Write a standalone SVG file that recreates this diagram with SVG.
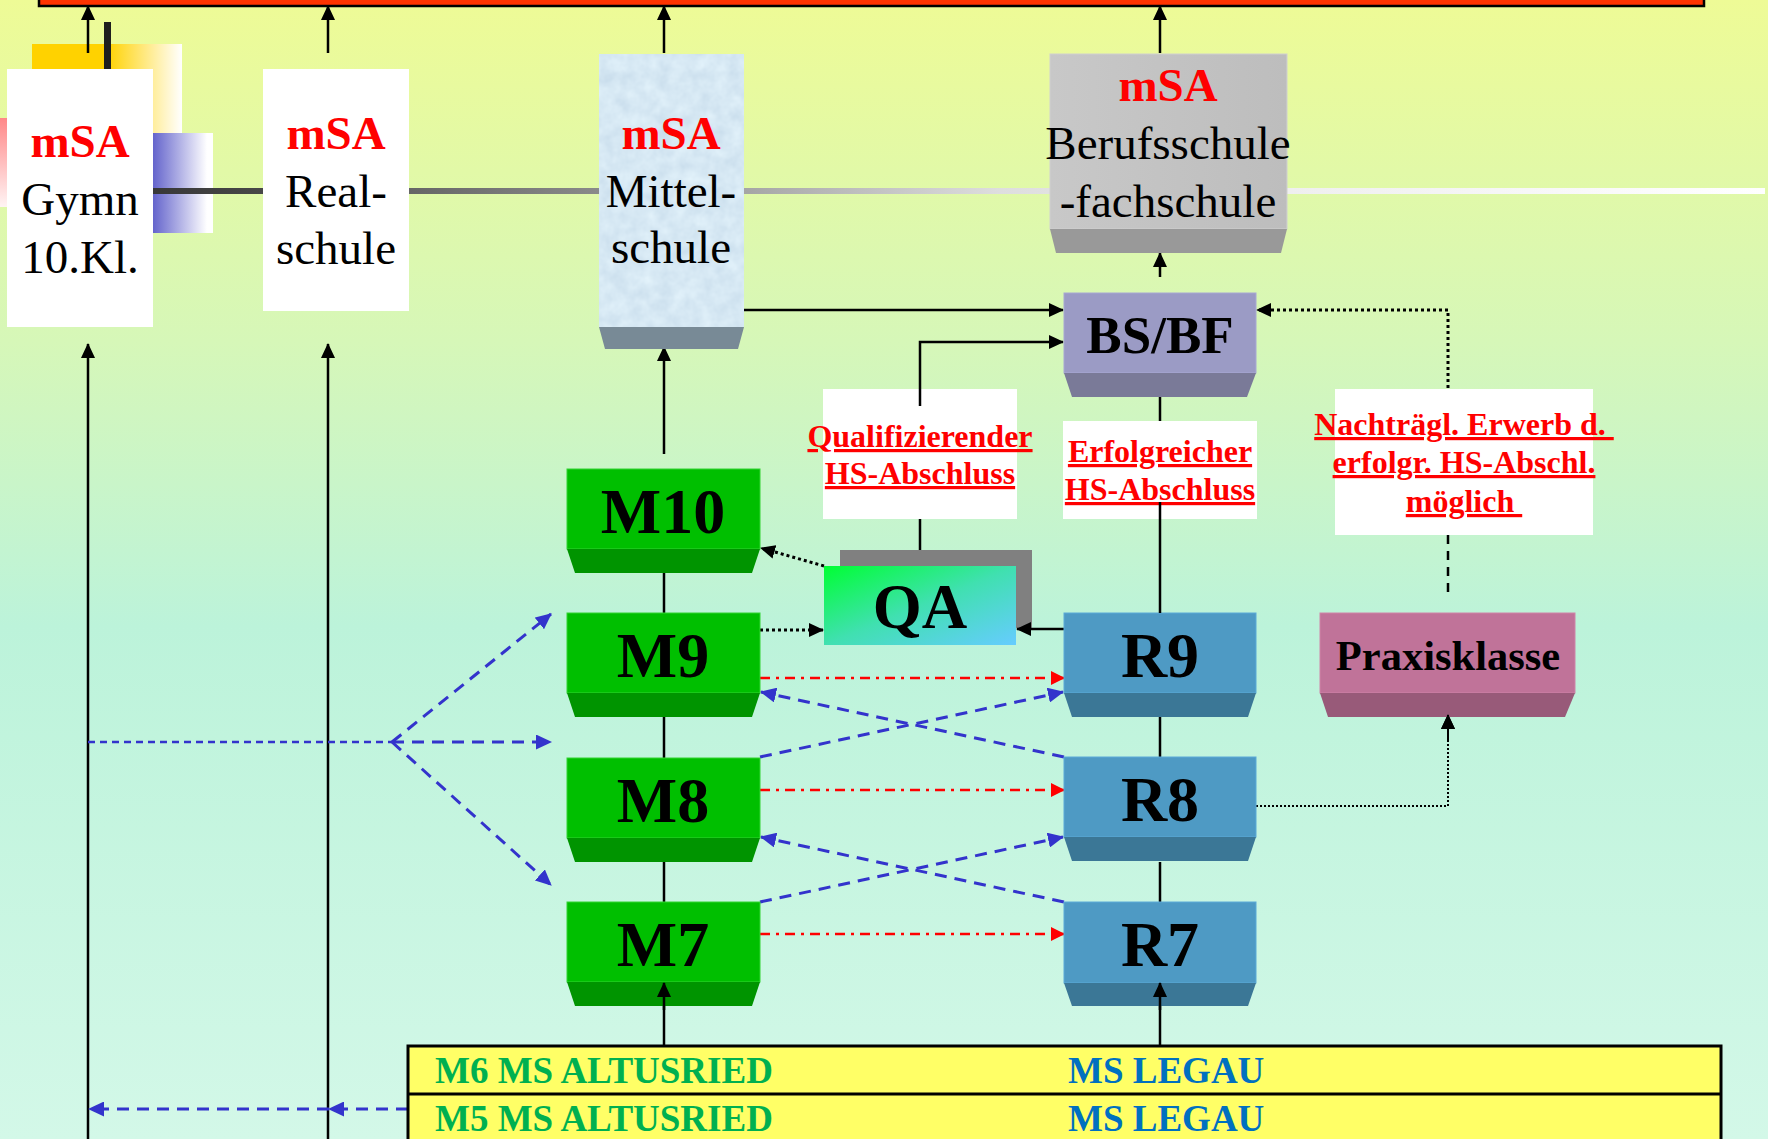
<svg xmlns="http://www.w3.org/2000/svg" width="1768" height="1139" viewBox="0 0 1768 1139">
<defs>
<linearGradient id="bg" x1="0" y1="0" x2="0" y2="1">
<stop offset="0" stop-color="#eefb96"/>
<stop offset="0.3" stop-color="#d6f7b8"/>
<stop offset="0.55" stop-color="#bcf3da"/>
<stop offset="1" stop-color="#d3f8e8"/>
</linearGradient>
<linearGradient id="hline" gradientUnits="userSpaceOnUse" x1="153" y1="0" x2="1765" y2="0">
<stop offset="0" stop-color="#383838"/>
<stop offset="0.068" stop-color="#484848"/>
<stop offset="0.159" stop-color="#666666"/>
<stop offset="0.277" stop-color="#8a8a8a"/>
<stop offset="0.367" stop-color="#a5a5a5"/>
<stop offset="0.525" stop-color="#dedede"/>
<stop offset="0.705" stop-color="#efefef"/>
<stop offset="1" stop-color="#ffffff"/>
</linearGradient>
<linearGradient id="yel" x1="0" y1="0" x2="1" y2="0">
<stop offset="0" stop-color="#ffd200"/>
<stop offset="0.5" stop-color="#ffd200"/>
<stop offset="1" stop-color="#ffffff"/>
</linearGradient>
<linearGradient id="blu" x1="0" y1="0" x2="1" y2="0">
<stop offset="0" stop-color="#6464cc"/>
<stop offset="0.9" stop-color="#ffffff"/>
<stop offset="1" stop-color="#ffffff"/>
</linearGradient>
<linearGradient id="pnk" x1="0" y1="0" x2="0" y2="1">
<stop offset="0" stop-color="#ff8888"/>
<stop offset="1" stop-color="#fff4f4"/>
</linearGradient>
<linearGradient id="qa" x1="0" y1="0" x2="1" y2="1">
<stop offset="0" stop-color="#00ff33"/>
<stop offset="0.5" stop-color="#40e0b0"/>
<stop offset="1" stop-color="#66ccff"/>
</linearGradient>
<linearGradient id="gray" x1="0" y1="0" x2="1" y2="0">
<stop offset="0" stop-color="#c8c8c8"/>
<stop offset="1" stop-color="#bdbdbd"/>
</linearGradient>
<filter id="tex" x="0" y="0" width="100%" height="100%" color-interpolation-filters="sRGB">
<feTurbulence type="fractalNoise" baseFrequency="0.07" numOctaves="3" seed="4" result="n"/>
<feColorMatrix in="n" type="matrix" values="0.12 0 0 0 0.78  0.10 0 0 0 0.86  0.07 0 0 0 0.92  0 0 0 0 1" result="c"/>
<feComposite in="c" in2="SourceGraphic" operator="in"/>
</filter>
<marker id="ak" markerUnits="userSpaceOnUse" markerWidth="15" markerHeight="14" refX="14" refY="7" orient="auto">
<path d="M0,0 L15,7 L0,14 z" fill="#000"/>
</marker>
<marker id="ab" markerUnits="userSpaceOnUse" markerWidth="16" markerHeight="15" refX="15" refY="7.5" orient="auto">
<path d="M0,0 L16,7.5 L0,15 z" fill="#3333cc"/>
</marker>
<marker id="ar" markerUnits="userSpaceOnUse" markerWidth="14" markerHeight="14" refX="13" refY="7" orient="auto">
<path d="M0,0 L14,7 L0,14 z" fill="#ff0000"/>
</marker>
</defs>
<style>
.s{font-family:"Liberation Serif","Times New Roman",serif}
.red{fill:#ff0000;font-weight:bold;font-size:47px}
.blk{fill:#000;font-size:47px}
.nb{fill:#000;font-weight:bold;font-size:64px}
.lab{fill:#ff0000;font-weight:bold;font-size:32px;text-decoration:underline;white-space:pre}
.tab{font-weight:bold;font-size:37px}
.c{stroke:#000;stroke-width:2.5;fill:none}
.ck{stroke:#000;stroke-width:2.5;fill:none;marker-end:url(#ak)}
.dot{stroke:#000;stroke-width:3;stroke-dasharray:3 3;fill:none;marker-end:url(#ak)}
.dot2{stroke:#000;stroke-width:2;stroke-dasharray:2 2;fill:none;marker-end:url(#ak)}
.rd{stroke:#ff0000;stroke-width:2.5;stroke-dasharray:10 6 3 6;fill:none;marker-end:url(#ar)}
.bd{stroke:#3333cc;stroke-width:3;stroke-dasharray:12 8;fill:none;marker-end:url(#ab)}
.mm{fill:#00bf00;stroke:#33d433;stroke-width:1}
.mb{fill:#009400}
.rm{fill:#4e9ac4;stroke:#5aaad8;stroke-width:1}
.rb{fill:#3b7796}
.wb{fill:#ffffff}
</style>
<rect x="0" y="0" width="1768" height="1139" fill="url(#bg)"/>
<rect x="39" y="-12" width="1665" height="18" fill="#ff3300" stroke="#000" stroke-width="2.5"/>
<g id="decor">
<rect x="32" y="44" width="150" height="89" fill="url(#yel)"/>
<rect x="0" y="118" width="30" height="89" fill="url(#pnk)"/>
<rect x="153" y="133" width="60" height="100" fill="url(#blu)"/>
<rect x="104" y="22" width="7" height="48" fill="#1e1e1e"/>
<rect x="153" y="188" width="1612" height="6" fill="url(#hline)"/>
</g>
<g id="connectors">
<line class="ck" x1="88" y1="53" x2="88" y2="6"/>
<line class="ck" x1="328" y1="53" x2="328" y2="6"/>
<line class="ck" x1="664" y1="53" x2="664" y2="6"/>
<line class="ck" x1="1160" y1="53" x2="1160" y2="6"/>
<line class="ck" x1="88" y1="1139" x2="88" y2="344"/>
<line class="ck" x1="328" y1="1139" x2="328" y2="344"/>
<line class="ck" x1="664" y1="454" x2="664" y2="347"/>
<line class="ck" x1="664" y1="613" x2="664" y2="552"/>
<line class="c" x1="664" y1="717" x2="664" y2="758"/>
<line class="c" x1="664" y1="862" x2="664" y2="902"/>
<line class="ck" x1="664" y1="1046" x2="664" y2="983"/>
<line class="ck" x1="1160" y1="1046" x2="1160" y2="983"/>
<line class="c" x1="1160" y1="717" x2="1160" y2="757"/>
<line class="c" x1="1160" y1="862" x2="1160" y2="902"/>
<line class="c" x1="1160" y1="397" x2="1160" y2="421"/>
<line class="ck" x1="1160" y1="277" x2="1160" y2="253"/>
<line class="ck" x1="744" y1="310" x2="1063" y2="310"/>
<polyline class="ck" points="920,406 920,342 1063,342"/>
<line class="c" x1="920" y1="502" x2="920" y2="550"/>
<polyline class="dot" points="1448,388 1448,310 1257,310"/>
<line x1="1448" y1="535" x2="1448" y2="598" stroke="#000" stroke-width="2.5" stroke-dasharray="9 7"/>
<polyline class="dot2" points="1256,806 1448,806 1448,715"/>
<line class="rd" x1="760" y1="678" x2="1064" y2="678"/>
<line class="rd" x1="760" y1="790" x2="1064" y2="790"/>
<line class="rd" x1="760" y1="934" x2="1064" y2="934"/>
<line class="bd" x1="1064" y1="757" x2="761" y2="692"/>
<line class="bd" x1="760" y1="757" x2="1063" y2="692"/>
<line class="bd" x1="1064" y1="902" x2="761" y2="837"/>
<line class="bd" x1="760" y1="902" x2="1063" y2="837"/>
<line x1="88" y1="742" x2="392" y2="742" stroke="#3333cc" stroke-width="2.5" stroke-dasharray="7 5"/>
<line class="bd" x1="392" y1="742" x2="551" y2="614"/>
<line class="bd" x1="392" y1="742" x2="551" y2="742"/>
<line class="bd" x1="392" y1="742" x2="551" y2="885"/>
<line class="bd" x1="408" y1="1109" x2="329" y2="1109" stroke-dasharray="15 14"/>
<line class="bd" x1="329" y1="1109" x2="89" y2="1109" stroke-dasharray="15 14"/>
</g>
<g id="gymn">
<rect class="wb" x="7" y="69" width="146" height="258"/>
<text class="s red" x="80" y="157" text-anchor="middle">mSA</text>
<text class="s blk" x="80" y="215" text-anchor="middle">Gymn</text>
<text class="s blk" x="80" y="273" text-anchor="middle">10.Kl.</text>
</g>
<g id="realschule">
<rect class="wb" x="263" y="69" width="146" height="242"/>
<text class="s red" x="336" y="149" text-anchor="middle">mSA</text>
<text class="s blk" x="336" y="207" text-anchor="middle">Real-</text>
<text class="s blk" x="336" y="264" text-anchor="middle">schule</text>
</g>
<g id="mittelschule">
<rect x="599" y="54" width="145" height="273" fill="#d5e5f2" filter="url(#tex)"/>
<polygon points="599,327 744,327 738,349 605,349" fill="#788a96"/>
<text class="s red" x="671" y="149" text-anchor="middle">mSA</text>
<text class="s blk" x="671" y="207" text-anchor="middle">Mittel-</text>
<text class="s blk" x="671" y="263" text-anchor="middle">schule</text>
</g>
<g id="berufsschule">
<rect x="1050" y="54" width="237" height="175" fill="url(#gray)" stroke="#d0d0d0" stroke-width="1"/>
<polygon points="1050,229 1287,229 1281,253 1056,253" fill="#999999"/>
<text class="s red" x="1168" y="101" text-anchor="middle">mSA</text>
<text class="s blk" x="1168" y="159" text-anchor="middle">Berufsschule</text>
<text class="s blk" x="1168" y="217" text-anchor="middle">-fachschule</text>
</g>
<g id="bsbf">
<rect x="1064" y="293" width="192" height="80" fill="#9b9bc5" stroke="#a8a8d4" stroke-width="1"/>
<polygon points="1064,373 1256,373 1247,397 1072,397" fill="#7a7a98"/>
<text class="s" x="1160" y="353" text-anchor="middle" font-weight="bold" font-size="53">BS/BF</text>
</g>
<g id="label-qual">
<rect class="wb" x="823" y="389" width="194" height="130"/>
<text class="s lab" x="920" y="447" text-anchor="middle">Qualifizierender</text>
<text class="s lab" x="920" y="484" text-anchor="middle">HS-Abschluss</text>
</g>
<g id="label-erfolg">
<rect class="wb" x="1063" y="421" width="194" height="98"/>
<text class="s lab" x="1160" y="462" text-anchor="middle">Erfolgreicher</text>
<text class="s lab" x="1160" y="500" text-anchor="middle">HS-Abschluss</text>
</g>
<g id="label-nachtr">
<rect class="wb" x="1335" y="389" width="258" height="146"/>
<text class="s lab" x="1464" y="435" text-anchor="middle">Nachträgl. Erwerb d. </text>
<text class="s lab" x="1464" y="473" text-anchor="middle">erfolgr. HS-Abschl.</text>
<text class="s lab" x="1464" y="512" text-anchor="middle">möglich </text>
</g>
<g id="qa">
<rect x="840" y="550" width="192" height="78" fill="#808080"/>
<rect x="824" y="566" width="192" height="79" fill="url(#qa)"/>
<text class="s" x="920" y="628" text-anchor="middle" font-weight="bold" font-size="63">QA</text>
</g>
<g id="connectors-qa">
<line class="ck" x1="1064" y1="629" x2="1017" y2="629"/>
<line class="dot" x1="760" y1="630" x2="823" y2="630"/>
<line class="dot" x1="824" y1="566" x2="761" y2="548"/>
</g>
<g id="m10">
<rect class="mm" x="567" y="469" width="193" height="80"/>
<polygon class="mb" points="567,549 760,549 752,573 575,573"/>
<text class="s nb" x="663" y="533" text-anchor="middle">M10</text>
</g>
<g id="m9">
<rect class="mm" x="567" y="613" width="193" height="80"/>
<polygon class="mb" points="567,693 760,693 752,717 575,717"/>
<text class="s nb" x="663" y="677" text-anchor="middle">M9</text>
</g>
<g id="m8">
<rect class="mm" x="567" y="758" width="193" height="80"/>
<polygon class="mb" points="567,838 760,838 752,862 575,862"/>
<text class="s nb" x="663" y="822" text-anchor="middle">M8</text>
</g>
<g id="m7">
<rect class="mm" x="567" y="902" width="193" height="80"/>
<polygon class="mb" points="567,982 760,982 752,1006 575,1006"/>
<text class="s nb" x="663" y="966" text-anchor="middle">M7</text>
</g>
<g id="r9">
<rect class="rm" x="1064" y="613" width="192" height="80"/>
<polygon class="rb" points="1064,693 1256,693 1248,717 1072,717"/>
<text class="s nb" x="1160" y="677" text-anchor="middle">R9</text>
</g>
<g id="r8">
<rect class="rm" x="1064" y="757" width="192" height="80"/>
<polygon class="rb" points="1064,837 1256,837 1248,861 1072,861"/>
<text class="s nb" x="1160" y="821" text-anchor="middle">R8</text>
</g>
<g id="r7">
<rect class="rm" x="1064" y="902" width="192" height="81"/>
<polygon class="rb" points="1064,983 1256,983 1248,1006 1072,1006"/>
<text class="s nb" x="1160" y="966" text-anchor="middle">R7</text>
</g>
<g id="praxisklasse">
<rect x="1320" y="613" width="255" height="80" fill="#c07399" stroke="#d084a8" stroke-width="1"/>
<polygon points="1320,693 1575,693 1565,717 1328,717" fill="#985a79"/>
<text class="s" x="1448" y="670" text-anchor="middle" font-weight="bold" font-size="42.5">Praxisklasse</text>
</g>
<g id="connectors-arrowtips">
<line class="ck" x1="664" y1="1010" x2="664" y2="983"/>
<line class="ck" x1="1160" y1="1010" x2="1160" y2="983"/>
<line class="dot2" x1="1448" y1="740" x2="1448" y2="715"/>
<line class="c" x1="1160" y1="502" x2="1160" y2="613"/>
<line class="c" x1="920" y1="389" x2="920" y2="406"/>
</g>
<g id="table">
<rect x="408" y="1046" width="1313" height="120" fill="#ffff66" stroke="#000" stroke-width="3"/>
<line x1="408" y1="1094" x2="1721" y2="1094" stroke="#000" stroke-width="3"/>
<text class="s tab" x="435" y="1083" fill="#00b050">M6 MS ALTUSRIED</text>
<text class="s tab" x="1068" y="1083" fill="#0070c0">MS LEGAU</text>
<text class="s tab" x="435" y="1131" fill="#00b050">M5 MS ALTUSRIED</text>
<text class="s tab" x="1068" y="1131" fill="#0070c0">MS LEGAU</text>
</g>
</svg>
